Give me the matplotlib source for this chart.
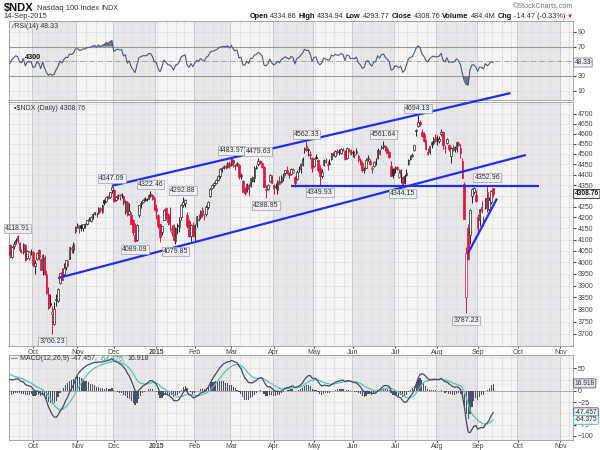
import matplotlib
matplotlib.use('Agg')
import matplotlib.pyplot as plt
import numpy as np
import pandas as pd

plt.rcParams['font.family'] = ['Liberation Sans', 'DejaVu Sans']

# 日足データ ($NDX 2014-09-15 ～ 2015-09-14)
start_date = '2014-09-15'
axis_end = '2015-11-30'
holidays = ['2014-11-27', '2014-12-25', '2015-01-01', '2015-01-19', '2015-02-16',
            '2015-04-03', '2015-05-25', '2015-07-03', '2015-09-07']

opens = [
    4075, 4025, 4070, 4085, 4115, 4085, 4045, 4045, 4075, 4020, 4020, 4050,  # Sep
    4045, 3985, 4015, 4055, 4015, 3965, 4025, 3950, 3865, 3825, 3780, 3740, 3840, 3835, 3910, 3960,
    3950, 3980, 3995, 4015, 4060, 4055, 4140,  # Oct
    4160, 4155, 4165, 4150, 4170, 4170, 4190, 4185, 4205, 4215, 4215, 4220, 4245, 4225, 4280, 4275,
    4300, 4295, 4325,  # Nov
    4325, 4280, 4295, 4300, 4305, 4300, 4225, 4270, 4215, 4210, 4190, 4120, 4100, 4210, 4260, 4270,
    4290, 4285, 4285, 4300, 4305, 4290,  # Dec
    4245, 4210, 4170, 4135, 4190, 4245, 4215, 4205, 4130, 4165, 4095, 4165, 4155, 4200, 4255, 4265,
    4210, 4185, 4115, 4155,  # Jan
    4125, 4170, 4195, 4200, 4235, 4200, 4215, 4250, 4300, 4335, 4350, 4360, 4375, 4395, 4425, 4430,
    4440, 4435, 4455,  # Feb
    4445, 4470, 4445, 4450, 4445, 4395, 4370, 4325, 4325, 4350, 4345, 4370, 4385, 4430, 4450, 4465,
    4455, 4435, 4325, 4330, 4370, 4390,  # Mar
    4350, 4340, 4325, 4370, 4365, 4390, 4410, 4420, 4410, 4405, 4415, 4390, 4380, 4425, 4425, 4445,
    4520, 4540, 4520, 4500, 4480,  # Apr
    4440, 4485, 4470, 4430, 4395, 4445, 4470, 4445, 4455, 4475, 4505, 4490, 4515, 4510, 4505, 4520,
    4515, 4480, 4525, 4520,  # May
    4510, 4495, 4505, 4490, 4470, 4455, 4420, 4430, 4475, 4465, 4425, 4440, 4465, 4480, 4520, 4530,
    4535, 4540, 4525, 4510, 4440, 4425,  # Jun
    4425, 4435, 4390, 4410, 4390, 4395, 4400, 4450, 4475, 4490, 4520, 4615, 4640, 4660, 4610, 4600,
    4570, 4510, 4510, 4545, 4555, 4585,  # Jul
    4580, 4565, 4600, 4610, 4530, 4555, 4545, 4490, 4530, 4520, 4525, 4555, 4530, 4465, 4355, 3850,
    4150, 4120, 4300, 4320, 4305,  # Aug
    4200, 4190, 4250, 4190, 4245, 4320, 4240, 4270, 4334.86,  # Sep
]
highs = [
    4080, 4070, 4095, 4105, 4118.91, 4090, 4060, 4085, 4080, 4055, 4050, 4060,
    4050, 4010, 4045, 4060, 4020, 4035, 4030, 3965, 3895, 3865, 3815, 3830, 3865, 3890, 3955, 3975,
    3995, 4010, 4010, 4065, 4075, 4090, 4160,
    4175, 4165, 4170, 4170, 4175, 4190, 4200, 4205, 4220, 4225, 4225, 4250, 4250, 4260, 4285, 4295,
    4305, 4320, 4347.09,
    4330, 4300, 4310, 4310, 4315, 4305, 4280, 4275, 4265, 4225, 4195, 4175, 4170, 4255, 4275, 4285,
    4295, 4290, 4310, 4322.46, 4310, 4300,
    4260, 4215, 4175, 4160, 4240, 4250, 4220, 4250, 4165, 4170, 4155, 4175, 4200, 4260, 4292.88, 4285,
    4225, 4195, 4170, 4180,
    4170, 4205, 4215, 4235, 4250, 4215, 4255, 4275, 4335, 4355, 4365, 4380, 4400, 4430, 4435, 4445,
    4450, 4460, 4465,
    4483.97, 4475, 4450, 4460, 4450, 4410, 4375, 4340, 4360, 4360, 4385, 4395, 4440, 4445, 4479.63, 4470,
    4460, 4440, 4350, 4355, 4405, 4400,
    4355, 4360, 4375, 4395, 4400, 4410, 4420, 4440, 4415, 4430, 4430, 4395, 4420, 4440, 4455, 4485,
    4535, 4562.33, 4530, 4515, 4485,
    4480, 4500, 4475, 4445, 4425, 4475, 4480, 4465, 4475, 4505, 4510, 4520, 4525, 4525, 4530, 4530,
    4520, 4535, 4530, 4525,
    4520, 4515, 4530, 4500, 4480, 4465, 4435, 4480, 4495, 4475, 4440, 4465, 4480, 4530, 4525, 4545,
    4561.64, 4545, 4535, 4515, 4465, 4430,
    4440, 4440, 4425, 4425, 4395, 4405, 4425, 4475, 4495, 4505, 4545, 4625, 4694.13, 4670, 4625, 4610,
    4575, 4530, 4540, 4565, 4585, 4600,
    4595, 4590, 4625, 4615, 4545, 4580, 4550, 4535, 4545, 4540, 4560, 4565, 4550, 4480, 4365, 4065,
    4170, 4240, 4335, 4340, 4325,
    4215, 4240, 4275, 4205, 4290, 4352.96, 4295, 4325, 4334.94,
]
lows = [
    4020, 4020, 4060, 4080, 4085, 4045, 4040, 4035, 4005, 4015, 4010, 4030,
    3980, 3950, 4010, 4010, 3965, 3945, 3945, 3865, 3800, 3810, 3700.23, 3735, 3815, 3830, 3905, 3925,
    3940, 3965, 3985, 4015, 4040, 4040, 4130,
    4150, 4130, 4140, 4140, 4150, 4165, 4185, 4180, 4195, 4210, 4200, 4215, 4225, 4220, 4255, 4270,
    4285, 4290, 4315,
    4270, 4275, 4285, 4280, 4290, 4255, 4215, 4205, 4210, 4170, 4120, 4089.09, 4095, 4200, 4245, 4265,
    4275, 4275, 4285, 4295, 4280, 4235,
    4195, 4150, 4090, 4120, 4190, 4190, 4165, 4140, 4115, 4095, 4079.85, 4125, 4135, 4190, 4250, 4250,
    4150, 4110, 4095, 4110,
    4090, 4155, 4185, 4195, 4200, 4190, 4205, 4240, 4295, 4330, 4340, 4355, 4370, 4385, 4415, 4425,
    4425, 4430, 4430,
    4440, 4435, 4420, 4440, 4380, 4380, 4320, 4305, 4320, 4300, 4340, 4365, 4365, 4425, 4440, 4450,
    4430, 4340, 4288.95, 4325, 4365, 4360,
    4310, 4330, 4310, 4355, 4360, 4370, 4400, 4405, 4385, 4400, 4410, 4340, 4375, 4415, 4410, 4440,
    4505, 4515, 4490, 4475, 4415,
    4435, 4475, 4415, 4349.93, 4385, 4440, 4455, 4420, 4445, 4470, 4490, 4485, 4500, 4495, 4500, 4515,
    4470, 4475, 4510, 4495,
    4485, 4480, 4500, 4460, 4445, 4415, 4410, 4430, 4465, 4445, 4410, 4435, 4445, 4475, 4495, 4525,
    4525, 4515, 4505, 4480, 4395, 4385,
    4410, 4420, 4385, 4360, 4344.15, 4355, 4395, 4445, 4470, 4485, 4515, 4590, 4635, 4640, 4585, 4560,
    4520, 4495, 4500, 4530, 4545, 4560,
    4545, 4555, 4590, 4525, 4505, 4550, 4515, 4455, 4515, 4510, 4510, 4540, 4480, 4385, 4195, 3787.23,
    4010, 4080, 4265, 4310, 4270,
    4130, 4160, 4220, 4160, 4240, 4225, 4225, 4260, 4293.77,
]
closes = [
    4030, 4065, 4080, 4100, 4095, 4055, 4045, 4080, 4010, 4050, 4045, 4050,
    3990, 3995, 4040, 4025, 3965, 4030, 3950, 3870, 3805, 3820, 3790, 3800, 3845, 3885, 3955, 3925,
    3975, 4010, 4005, 4065, 4060, 4080, 4155,
    4165, 4150, 4150, 4170, 4170, 4190, 4195, 4200, 4215, 4225, 4215, 4245, 4235, 4255, 4265, 4295,
    4290, 4320, 4340,
    4275, 4295, 4305, 4300, 4305, 4265, 4275, 4210, 4230, 4170, 4135, 4095, 4165, 4255, 4265, 4280,
    4280, 4280, 4305, 4310, 4285, 4235,
    4230, 4160, 4110, 4160, 4235, 4210, 4180, 4170, 4150, 4100, 4150, 4160, 4190, 4255, 4270, 4280,
    4160, 4115, 4165, 4115,
    4165, 4205, 4190, 4230, 4210, 4200, 4250, 4270, 4330, 4350, 4360, 4375, 4395, 4425, 4430, 4440,
    4435, 4455, 4440,
    4480, 4455, 4440, 4455, 4390, 4400, 4320, 4315, 4355, 4330, 4385, 4390, 4430, 4435, 4465, 4455,
    4435, 4340, 4330, 4350, 4400, 4360,
    4335, 4345, 4370, 4355, 4390, 4405, 4420, 4410, 4400, 4425, 4420, 4360, 4415, 4425, 4450, 4475,
    4530, 4520, 4525, 4495, 4430,
    4475, 4480, 4420, 4395, 4415, 4470, 4460, 4450, 4450, 4505, 4495, 4515, 4510, 4510, 4525, 4520,
    4475, 4530, 4525, 4500,
    4505, 4500, 4515, 4470, 4455, 4420, 4425, 4470, 4480, 4450, 4430, 4460, 4465, 4520, 4500, 4535,
    4545, 4520, 4505, 4485, 4395, 4400,
    4430, 4425, 4410, 4420, 4350, 4360, 4410, 4470, 4490, 4495, 4545, 4620, 4660, 4650, 4590, 4565,
    4525, 4500, 4540, 4560, 4575, 4565,
    4570, 4575, 4610, 4545, 4530, 4575, 4525, 4530, 4525, 4535, 4560, 4545, 4505, 4385, 4195, 4040,
    4015, 4235, 4330, 4335, 4275,
    4150, 4240, 4230, 4185, 4290, 4235, 4280, 4323.23, 4308.76,
]

# 高値・安値ラベル (日付, 'hi' / 'lo')
peak_labels = [('2014-09-19', 'hi'), ('2014-10-15', 'lo'), ('2014-11-28', 'hi'), ('2014-12-16', 'lo'),
               ('2014-12-29', 'hi'), ('2015-01-16', 'lo'), ('2015-01-23', 'hi'), ('2015-03-02', 'hi'),
               ('2015-03-20', 'hi'), ('2015-03-26', 'lo'), ('2015-04-27', 'hi'), ('2015-05-06', 'lo'),
               ('2015-06-23', 'hi'), ('2015-07-08', 'lo'), ('2015-07-20', 'hi'), ('2015-08-24', 'lo'),
               ('2015-09-09', 'hi')]

# トレンドライン (開始日, 値, 終了日, 値)
trend_lines = [('2014-11-28', 4347, '2015-09-25', 4808),
               ('2014-10-20', 3932, '2015-10-07', 4495),
               ('2015-04-15', 4346, '2015-10-16', 4346),
               ('2015-08-25', 4040, '2015-09-16', 4287)]

month_labels = ['Oct', 'Nov', 'Dec', '2015', 'Feb', 'Mar', 'Apr', 'May', 'Jun', 'Jul', 'Aug',
                'Sep', 'Oct', 'Nov']
price_ticks = [t for t in range(3700, 4701, 50) if t != 4300]
rsi_ticks = [10, 30, 70, 90]
macd_ticks = [-100, -75, -25, 0, 50]
macd_grid = [-100, -75, -50, -25, 0, 25, 50, 75]
volume_text = '484.4M'
rsi_last, macd_last, signal_last = 48.33, -47.457, -64.375

dates = pd.bdate_range(start_date, axis_end, freq='C', holidays=holidays)
n = len(closes)
xs = np.arange(n)
o, h, l, c = (np.array(a, dtype=float) for a in (opens, highs, lows, closes))
date_pos = {d.strftime('%Y-%m-%d'): i for i, d in enumerate(dates)}

# RSI(14) / MACD(12,26,9)
gain, loss = 12.0, 10.0
e12, e26, sig = 4055.0, 4025.0, 40.0
rsi, macd, signal = [], [], []
for i in range(n):
    d = c[i] - (c[i - 1] if i else o[0])
    gain = (gain * 13 + max(d, 0)) / 14
    loss = (loss * 13 + max(-d, 0)) / 14
    rsi.append(100 - 100 / (1 + gain / loss))
    e12 += (c[i] - e12) * 2 / 13
    e26 += (c[i] - e26) * 2 / 27
    m = e12 - e26
    sig += (m - sig) * 2 / 10
    macd.append(m)
    signal.append(sig)
rsi, macd, signal = np.array(rsi), np.array(macd), np.array(signal)
hist = macd - signal

# 月・週の区切り
mstart = [i for i in range(1, len(dates)) if dates[i].month != dates[i - 1].month]
week_start = [i for i in range(1, len(dates)) if dates[i].weekday() < dates[i - 1].weekday()]
x_lo, x_hi = -0.47, 292.5

fig = plt.figure(figsize=(6, 4.5), dpi=100)
fig.patch.set_facecolor('white')
W, H = 600.0, 450.0


def box(top, bottom):
    return [9 / W, 1 - bottom / H, (573 - 9) / W, (bottom - top) / H]


ax_rsi = fig.add_axes(box(21, 100))
ax = fig.add_axes(box(102, 346))
ax_m = fig.add_axes(box(355, 440))

for a in (ax_rsi, ax, ax_m):
    a.set_facecolor('#f4f4f5')
    a.set_xlim(x_lo, x_hi)
    bounds = [0] + mstart
    for k in range(len(bounds) - 1):
        if dates[bounds[k]].month % 2 == 0:
            a.axvspan(bounds[k] - 0.5, bounds[k + 1] - 0.5, color='#e7e7ea', lw=0, zorder=0)
    for w in week_start:
        a.axvline(w - 0.5, color='#dcdde3', lw=0.5, zorder=0.5)
    for m0 in mstart:
        a.axvline(m0 - 0.5, color='#c6c8d0', lw=0.6, zorder=0.6)
    a.yaxis.tick_right()
    a.tick_params(axis='y', labelsize=5, length=2, pad=1.2, colors='#444')
    a.tick_params(axis='x', labelsize=5, length=1.5, pad=0.6, colors='#444')
    for s in a.spines.values():
        s.set_color('#999')
        s.set_linewidth(0.6)

# --- RSI ---
ax_rsi.set_ylim(-2.8, 105)
for lv in (10, 90):
    ax_rsi.axhline(lv, color='#dcdde3', lw=0.5, zorder=0.5)
for lv in (30, 70):
    ax_rsi.axhline(lv, color='#9a9a9a', lw=0.8, zorder=1)
ax_rsi.axhline(50, color='#9a9a9a', lw=0.6, ls='-.', zorder=1)
ax_rsi.plot(xs, rsi, color='#4d587a', lw=0.8, zorder=3)
ax_rsi.fill_between(xs, rsi, 70, where=rsi > 70, interpolate=True, color='#6e7896', lw=0, zorder=2)
ax_rsi.fill_between(xs, rsi, 30, where=rsi < 30, interpolate=True, color='#6e7896', lw=0, zorder=2)
ax_rsi.set_yticks(rsi_ticks)
ax_rsi.set_xticks([])
ax_rsi.text(0.006, 0.93, '\u2215\u2215RSI(14) %.2f' % rsi_last, transform=ax_rsi.transAxes, fontsize=5,
            color='#333', va='center', ha='left')
ax_rsi.text(12, 55.3, '4300', fontsize=5.2, fontweight='bold', color='#111', ha='center', va='center',
            zorder=5)
ax_rsi.text(1.003, rsi_last, '%.2f' % rsi_last, transform=ax_rsi.get_yaxis_transform(), fontsize=4.8,
            color='#333', va='center', ha='left', clip_on=False, zorder=10,
            bbox=dict(boxstyle='round,pad=0.15', fc='#f0f1f5', ec='#7a7f95', lw=0.6))

# --- ローソク足 ---
ax.set_yscale('log')
ax.set_ylim(3652, 4761.6)
ax.set_yticks(price_ticks)
ax.set_yticks([], minor=True)
ax.set_yticklabels([str(t) for t in price_ticks])
for t in range(3700, 4751, 50):
    ax.axhline(t, color='#dcdde3', lw=0.5, zorder=0.5)
prev = np.r_[o[0], c[:-1]]
col = np.where(c >= prev, '#222222', '#e0143c')
face = np.where(c < o, col, 'white')
ax.vlines(xs, l, h, colors=col, lw=0.7, zorder=3)
body_lo = np.minimum(o, c)
body_h = np.maximum(np.abs(c - o), 1.5)
ax.bar(xs, body_h, bottom=body_lo, width=0.8, color=face, edgecolor=col, lw=0.5, zorder=4)

for d0, v0, d1, v1 in trend_lines:
    ax.plot([date_pos[d0], date_pos[d1]], [v0, v1], color='#1f2ef0', lw=1.6, zorder=6,
            clip_on=False, solid_capstyle='butt')

for d, kind in peak_labels:
    i = date_pos[d]
    v = h[i] if kind == 'hi' else l[i]
    ax.annotate('%.2f' % v, (i, v), xytext=(0, 5.0 if kind == 'hi' else -5.4), textcoords='offset points',
                ha='center', va='center', fontsize=5, color='#333', zorder=8,
                bbox=dict(boxstyle='square,pad=0.15', fc='#eef0f4', ec='#9aa0b0', lw=0.5))

ax.text(0.008, 0.975, '\u25aa\\$NDX (Daily) %.2f' % c[-1], transform=ax.transAxes, fontsize=5,
        color='#333', va='center', ha='left')
ax.text(1.003, c[-1], '%.2f' % c[-1], transform=ax.get_yaxis_transform(), fontsize=4.8,
        color='#111', va='center', ha='left', clip_on=False, zorder=10, fontweight='bold',
        bbox=dict(boxstyle='round,pad=0.15', fc='white', ec='#222', lw=0.6))
ax.set_xticks(mstart[:len(month_labels)])
ax.set_xticklabels(month_labels)
ax.get_xticklabels()[3].set_fontweight('bold')

# --- MACD ---
ax_m.set_ylim(-109, 80)
for t in macd_grid:
    ax_m.axhline(t, color='#dcdde3', lw=0.5, zorder=0.5)
ax_m.axhline(0, color='#a0a0a8', lw=0.6, zorder=1)
ax_m.bar(xs, hist, width=0.6, color='#4c5268', lw=0, zorder=2)
ax_m.plot(xs, signal, color='#5cc3b3', lw=0.9, zorder=3)
ax_m.plot(xs, macd, color='#414b6b', lw=0.9, zorder=4)
ax_m.set_yticks(macd_ticks)
ax_m.set_xticks(mstart[:len(month_labels)])
ax_m.set_xticklabels(month_labels)
ax_m.get_xticklabels()[3].set_fontweight('bold')
for val, ec, fc in ((macd_last - signal_last, '#4c5268', '#e8eaf0'), (macd_last, '#414b6b', '#f0f1f5'),
                    (signal_last, '#5cc3b3', '#f0f1f5')):
    ax_m.text(1.003, val, '%.3f' % val, transform=ax_m.get_yaxis_transform(), fontsize=4.8,
              color='#333', va='center', ha='left', clip_on=False, zorder=10,
              bbox=dict(boxstyle='round,pad=0.15', fc=fc, ec=ec, lw=0.6))

renderer = fig.canvas.get_renderer()


def row(x0, y0, pieces, align='left', gap=2.5):
    # 文字列を横に並べる (px 座標)
    x = x0
    seq = pieces if align == 'left' else list(reversed(pieces))
    for s, kw in seq:
        t = fig.text(x / W, 1 - y0 / H, s, ha=align, va='center', **kw)
        wpx = t.get_window_extent(renderer=renderer).width
        x = x + wpx + gap if align == 'left' else x - wpx - gap


norm = dict(fontsize=5, color='#333')
row(11, 359, [('\u2014 MACD(12,26,9) %.3f,' % macd_last, norm),
              ('%.3f,' % signal_last, dict(fontsize=5, color='#2fa898')),
              ('%.3f' % (macd_last - signal_last), norm)], gap=2.5)

# --- ヘッダー ---
row(4, 8, [('\\$NDX', dict(fontsize=8, fontweight='bold', color='#111')),
           ('Nasdaq 100 Index', dict(fontsize=5.5, color='#333')),
           ('INDX', dict(fontsize=5, color='#333'))], gap=3)
fig.text(3 / W, 1 - 16.5 / H, '14-Sep-2015', fontsize=5.5, color='#333', va='center')
fig.text(573 / W, 1 - 7 / H, '\u00a9StockCharts.com', fontsize=5.2, color='#777', va='center', ha='right')
chg = c[-1] - c[-2]
b = dict(fontsize=5.3, fontweight='bold', color='#111')
v = dict(fontsize=5.3, color='#333')
row(573, 16.5, [('Open', b), ('%.2f' % o[-1], v), ('High', b), ('%.2f' % h[-1], v),
                ('Low', b), ('%.2f' % l[-1], v), ('Close', b), ('%.2f' % c[-1], v),
                ('Volume', b), (volume_text, v), ('Chg', b),
                ('%.2f (%.2f%%)' % (chg, chg / c[-2] * 100), v),
                ('\u25bc', dict(fontsize=4.5, color='#d01030'))], align='right', gap=2)

plt.savefig('out.png', dpi=100)
